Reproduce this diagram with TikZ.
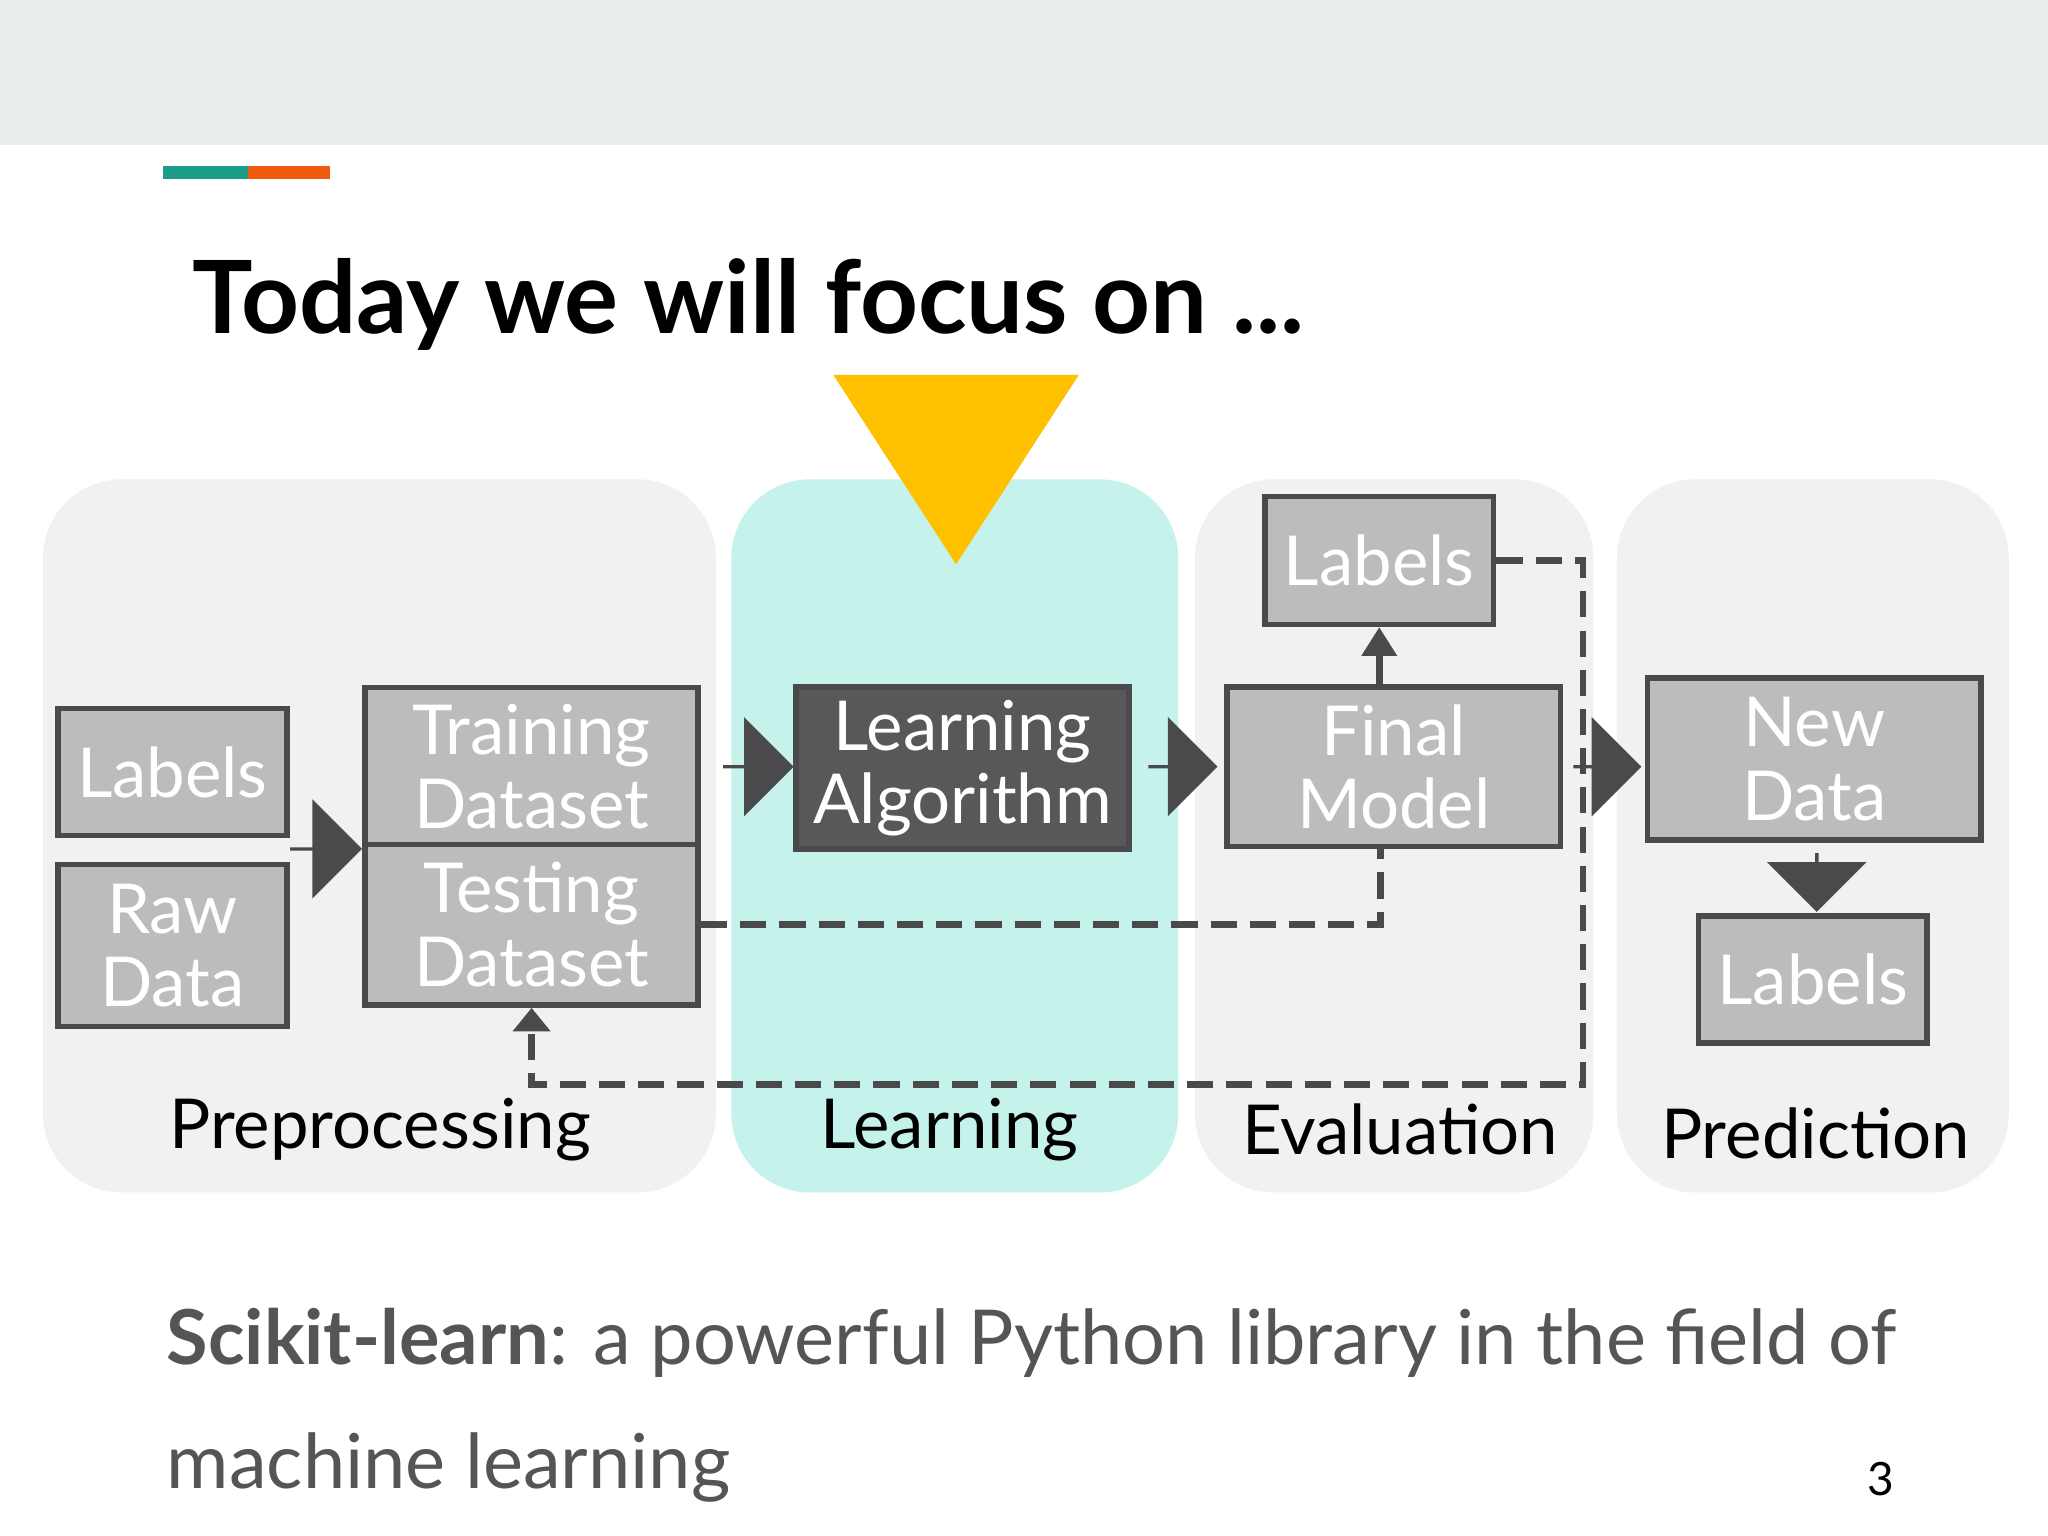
\documentclass[tikz,border=0pt]{standalone}
\usepackage{fontspec}
\setmainfont{Lato}
\usetikzlibrary{positioning, shapes.arrows, arrows.meta}
\definecolor{topband}{HTML}{E8EEEC}
\definecolor{teal}{HTML}{1A9E8A}
\definecolor{accent}{HTML}{F05A0E}
\definecolor{panel}{HTML}{F2F0F2}
\definecolor{mint}{HTML}{C5F3EB}
\definecolor{boxgray}{HTML}{BDBBBE}
\definecolor{boxdark}{HTML}{58585A}
\definecolor{edge}{HTML}{4A4A4C}
\definecolor{sunny}{HTML}{FFC000}
\definecolor{bodytext}{HTML}{555555}

\begin{document}
\begin{tikzpicture}[
      x=0.01cm, y=-0.01cm,
      % Styles
      stage/.style={% background panels
        rounded corners=0.6cm,
        draw=none
      },
      block/.style={% gray boxes
        rectangle,
        draw=edge,
        line width=1.2pt,
        fill=boxgray,
        text=white,
        font=\fontsize{15}{16}\selectfont,
        align=center,
        inner sep=0pt
      },
      fat/.style={% block arrows
        single arrow,
        fill=edge,
        draw=none,
        inner sep=0pt,
        minimum width=0.76cm,
        single arrow head extend=0.2cm
      },
      flow/.style={% dashed returns
        edge,
        line width=1.5pt,
        dash pattern=on 0.2cm off 0.1cm
      },
      caption/.style={
        font=\fontsize{15}{16}\selectfont,
        text=black
      }
      ]

      % slide frame
      \useasboundingbox (0,0) rectangle (1568,1176);
      \fill[white] (0,0) rectangle (1568,1176);
      \fill[topband] (0,0) rectangle (1568,111);
      \fill[teal] (125,127) rectangle (190,137);
      \fill[accent] (190,127) rectangle (253,137);
      \node[anchor=base west, inner sep=0pt, font=\fontsize{22}{24}\selectfont\bfseries] (title) at (147,255) {Today we will focus on ...};

      % panels
      \fill[stage, panel] (33,367) rectangle (548,913);
      \fill[stage, mint] (560,367) rectangle (902,913);
      \fill[stage, panel] (915,367) rectangle (1220,913);
      \fill[stage, panel] (1238,367) rectangle (1538,913);
      \fill[sunny] (638,287) -- (826,287) -- (732,432) -- cycle;

      % boxes
      \node[block, minimum width=1.75cm, minimum height=0.97cm] (labelsA) at (132,591) {Labels};
      \node[block, minimum width=1.75cm, minimum height=1.24cm] (raw) at (132,724) {Raw\\Data};
      \node[block, minimum width=2.55cm, minimum height=1.21cm] (train) at (407,587) {Training\\Dataset};
      \node[block, minimum width=2.55cm, minimum height=1.23cm] (test) at (407,708) {Testing\\Dataset};
      \node[block, fill=boxdark, minimum width=2.55cm, minimum height=1.24cm] (algo) at (737,588) {Learning\\Algorithm};
      \node[block, minimum width=2.55cm, minimum height=1.22cm] (model) at (1067,587) {Final\\Model};
      \node[block, minimum width=1.75cm, minimum height=0.98cm] (labelsB) at (1056,429) {Labels};
      \node[block, minimum width=2.55cm, minimum height=1.24cm] (new) at (1389,581) {New\\Data};
      \node[block, minimum width=1.75cm, minimum height=0.97cm] (labelsC) at (1388,750) {Labels};

      % block arrows
      \node[fat, minimum height=0.55cm] (arrA) at (249,650) {};
      \node[fat, minimum height=0.54cm] (arrB) at (580,587) {};
      \node[fat, minimum height=0.53cm] (arrC) at (905,587) {};
      \node[fat, minimum height=0.52cm] (arrD) at (1230,587) {};
      \node[fat, shape border rotate=270, minimum height=0.45cm] (arrE) at (1391,675) {};

      % dashed connectors
      \coordinate (c1) at (1212,429);
      \coordinate (c2) at (1212,830);
      \coordinate (c3) at (407,830);
      \draw[flow, -{Triangle[length=0.18cm,width=0.28cm]}] (labelsB.east) -- (c1) -- (c2) -- (c3) -- (test.south);
      \coordinate (c4) at (1057,708);
      \draw[flow] (test.east) -- (c4) -- (model.south -| c4);
      \draw[edge, line width=1.5pt, -{Triangle[length=0.22cm,width=0.26cm]}] (model.north -| labelsB) -- (labelsB.south);

      % captions
      \node[caption] (pre) at (291,865) {Preprocessing};
      \node[caption] (lrn) at (727,865) {Learning};
      \node[caption] (eva) at (1072,865) {Evaluation};
      \node[caption] (pred) at (1390,868) {Prediction};

      % bottom text
      \node[anchor=base west, inner sep=0pt, text=bodytext, font=\fontsize{16.5}{18}\selectfont] (line1) at (127,1045) {\textbf{Scikit-learn}: a powerful Python library in the field of};
      \node[anchor=base west, inner sep=0pt, text=bodytext, font=\fontsize{16.5}{18}\selectfont] (line2) at (127,1140) {machine learning};
      \node[anchor=base, inner sep=0pt, font=\fontsize{10}{12}\selectfont] (page) at (1440,1145) {3};
    \end{tikzpicture}
\end{document}
